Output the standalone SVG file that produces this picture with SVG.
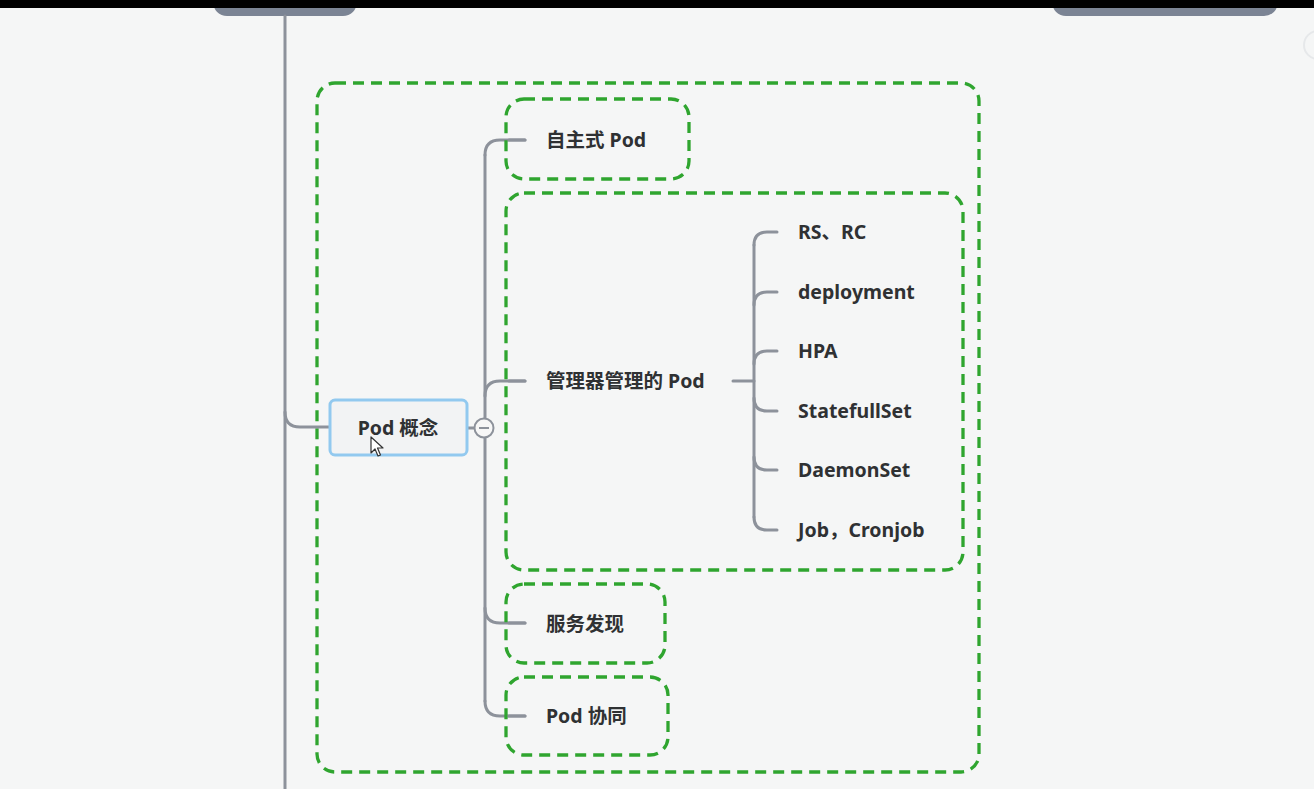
<svg xmlns="http://www.w3.org/2000/svg" width="1314" height="789" viewBox="0 0 1314 789">
  <style>
    .frame { fill: none; stroke: #2fa52f; stroke-width: 3.3; stroke-dasharray: 11 7; }
    .branch { fill: none; stroke: #8d929b; stroke-width: 3; stroke-linecap: round; }
    .label { font-family: "Noto Sans", "Noto Sans CJK SC", sans-serif; font-size: 19.5px; font-weight: bold; fill: #2f3133; }
    .pill { fill: #7b8494; }
  </style>

  <!-- canvas -->
  <rect x="0" y="0" width="1314" height="789" fill="#f5f6f6"/>

  <!-- parent topics cut off at the top edge -->
  <g id="topic-left">
    <rect class="pill" x="213" y="-30" width="144" height="46" rx="14"/>
  </g>
  <g id="topic-right">
    <rect class="pill" x="1052" y="-30" width="226" height="46" rx="14"/>
  </g>
  <rect x="0" y="0" width="1314" height="8" fill="#000"/>
  <circle cx="1318" cy="45" r="14" fill="none" stroke="#e6e8ea" stroke-width="2"/>

  <!-- boundary around the Pod concept branch -->
  <g id="boundary-pod">
    <rect x="317" y="83" width="662" height="689" rx="18" fill="#f3f4f4" class="frame"/>
  </g>

  <!-- connectors -->
  <g id="connectors">
    <!-- trunk from the upper topic down the left side -->
    <path class="branch" d="M285 16 V789"/>
    <path class="branch" d="M285 412 Q285 427 300 427 H334"/>
    <!-- Pod concept to its children -->
    <path class="branch" d="M463 428 H475"/>
    <path class="branch" d="M485 155 Q485 140 500 140 H525"/>
    <path class="branch" d="M485 155 V701"/>
    <path class="branch" d="M485 396 Q485 381 500 381 H525"/>
    <path class="branch" d="M485 608 Q485 623 500 623 H525"/>
    <path class="branch" d="M485 701 Q485 716 500 716 H525"/>
    <!-- controller-managed Pod to its kinds -->
    <path class="branch" d="M733 381 H754"/>
    <path class="branch" d="M754 245 V517"/>
    <path class="branch" d="M754 245 Q754 232 767 232 H777"/>
    <path class="branch" d="M754 305 Q754 292 767 292 H777"/>
    <path class="branch" d="M754 364 Q754 351 767 351 H777"/>
    <path class="branch" d="M754 398 Q754 411 767 411 H777"/>
    <path class="branch" d="M754 457 Q754 470 767 470 H777"/>
    <path class="branch" d="M754 517 Q754 530 767 530 H777"/>
  </g>

  <!-- Pod concept (selected) -->
  <g id="node-pod-concept">
    <rect x="330" y="400" width="137" height="55" rx="5" fill="#f2f3f4" stroke="#92c9ef" stroke-width="3"/>
    <text class="label" x="398" y="434.5" text-anchor="middle">Pod 概念</text>
    <path d="M371 437 V453 L375 449 L378 456 L380.5 455 L377.5 448 L383 448 Z" fill="#fff" stroke="#333" stroke-width="1.2" stroke-linejoin="round"/>
  </g>
  <g id="collapse-toggle">
    <circle cx="484" cy="428" r="9.5" fill="#f7f7f7" stroke="#8d929b" stroke-width="2"/>
    <path d="M479 428 H489" stroke="#8d929b" stroke-width="2"/>
  </g>

  <g id="node-standalone-pod">
    <rect class="frame" x="506" y="99" width="183" height="80" rx="18" fill="#eff0f1"/>
    <path class="branch" d="M509 140 H525"/>
    <text class="label" x="546" y="146.5">自主式 Pod</text>
  </g>

  <g id="node-managed-pod">
    <rect class="frame" x="506" y="193" width="457" height="377" rx="18" fill="#eff0f1"/>
    <path class="branch" d="M509 381 H525"/>
    <text class="label" x="546" y="387.5">管理器管理的 Pod</text>
  </g>

  <g id="node-rs-rc"><text class="label" x="798" y="238.5">RS、RC</text></g>
  <g id="node-deployment"><text class="label" x="798" y="298.5">deployment</text></g>
  <g id="node-hpa"><text class="label" x="798" y="357.5">HPA</text></g>
  <g id="node-statefulset"><text class="label" x="798" y="417.5">StatefullSet</text></g>
  <g id="node-daemonset"><text class="label" x="798" y="476.5">DaemonSet</text></g>
  <g id="node-job"><text class="label" x="798" y="536.5">Job，Cronjob</text></g>

  <g id="node-service-discovery">
    <rect class="frame" x="506" y="584" width="159" height="79" rx="18" fill="#eff0f1"/>
    <path class="branch" d="M509 623 H525"/>
    <text class="label" x="546" y="630.5">服务发现</text>
  </g>

  <g id="node-pod-cooperation">
    <rect class="frame" x="506" y="677" width="162" height="78" rx="18" fill="#eff0f1"/>
    <path class="branch" d="M509 716 H525"/>
    <text class="label" x="546" y="722.5">Pod 协同</text>
  </g>
</svg>
